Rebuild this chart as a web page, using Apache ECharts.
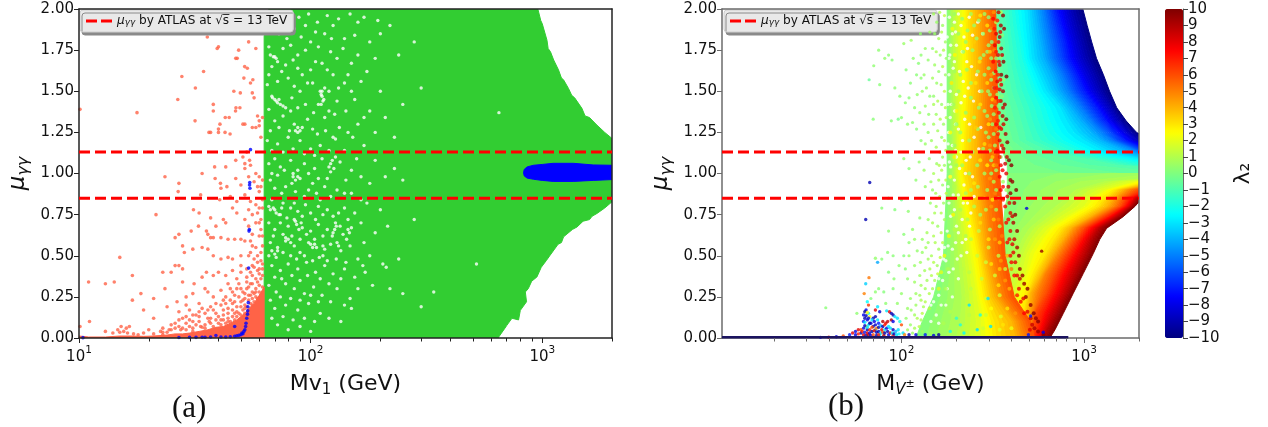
<!DOCTYPE html>
<html><head><meta charset="utf-8">
<style>html,body{margin:0;padding:0;background:#fff}#c{width:1268px;height:427px}</style>
<script src="https://cdn.jsdelivr.net/npm/echarts@6/dist/echarts.min.js"></script>
</head><body><div id="c"></div>
<script>
// ---------- data ----------
const muTickStep = 0.25;
const atlasBounds = [0.85, 1.13];
const panelAXRange = [10, 2000];
const panelBXRange = [10.4, 2000];
const majorTicks = [10, 100, 1000];
const minorTicks = [20,30,40,50,60,70,80,90,200,300,400,500,600,700,800,900,2000];
const legendName = '{g|μ}{s|γγ} by ATLAS at √s̅ = 13 TeV';

// panel (a): outline of the dense green region [Mv1, mu]
const greenOutline = [[63,0],[63,1.84],[66,1.86],[66,2],[957,2],[985,1.93],[1000,1.91],[1048,1.81],[1060,1.76],[1085,1.74],[1120,1.69],[1175,1.63],[1210,1.58],[1235,1.57],[1298,1.517],[1340,1.475],[1380,1.46],[1483,1.396],[1530,1.35],[1600,1.34],[1722,1.294],[1860,1.25],[2000,1.213],[2000,0.828],[1860,0.79],[1722,0.757],[1640,0.74],[1600,0.72],[1500,0.71],[1413,0.675],[1350,0.66],[1236,0.615],[1210,0.58],[1170,0.57],[1081,0.503],[1040,0.47],[990,0.43],[948,0.371],[900,0.345],[870,0.3],[845,0.28],[855,0.22],[804,0.168],[790,0.11],[740,0.12],[703,0.077],[690,0.06],[644,0]];
const blueBlob = [[830,1.004],[836,1.025],[860,1.04],[916,1.05],[1000,1.055],[1115,1.062],[1361,1.062],[1660,1.052],[2000,1.05],[2000,0.963],[1660,0.958],[1361,0.952],[1115,0.952],[1000,0.958],[916,0.965],[860,0.972],[836,0.985]];
const salmonOutline = [[10,0],[10,0.012],[11,0.006],[13,0.006],[15,0.012],[17,0.012],[19,0.01],[21,0.012],[24,0.018],[26,0.025],[28,0.025],[30,0.03],[33,0.04],[36,0.05],[39,0.065],[42,0.07],[45,0.09],[48,0.11],[50,0.13],[52,0.15],[55,0.19],[57,0.21],[60,0.26],[63,0.31],[63,0]];
const salmonPoints = [[10.1,1.39],[17.8,1.37],[35.8,1.83],[39.5,1.76],[40,1.77],[48.9,1.75],[48.2,1.70],[47.5,1.7],[54,1.8],[58,1.76],[34.5,1.62],[51.9,1.65],[53.3,1.64],[27.8,1.59],[51.5,1.58],[56.3,1.57],[55,1.55],[31.8,1.52],[46.6,1.50],[49.7,1.49],[56,1.49],[26.7,1.45],[38,1.42],[38,1.38],[47.6,1.40],[49.5,1.40],[47.4,1.38],[57,1.46],[31.7,1.32],[42.8,1.34],[44.5,1.34],[59,1.35],[52,1.3],[40.6,1.30],[51,1.30],[60,1.32],[40,1.27],[36.4,1.25],[37,1.25],[40,1.25],[42.7,1.25],[44.9,1.24],[56,1.28],[58,1.28],[60,1.29],[62,1.34],[61,1.22],[47.5,1.08],[51,1.1],[53,1.13],[52,1.06],[54.5,1.08],[52,1.03],[55,1.05],[54,0.98],[23.5,0.98],[34,1.0],[38.5,1.04],[43,1.04],[38.7,0.97],[40.8,0.94],[41,0.91],[43.5,0.92],[27,0.94],[26.8,0.89],[33.5,0.87],[47.5,0.97],[50,0.93],[57,0.95],[59,0.92],[60,0.89],[62,0.84],[40.5,0.84],[45,0.86],[48,0.83],[52,0.87],[55,0.83],[58,0.81],[21.5,0.75],[31.2,0.78],[33,0.76],[46,0.79],[48,0.76],[52,0.72],[54,0.78],[59,0.76],[61,0.72],[42,0.72],[43,0.7],[37,0.73],[39,0.68],[30.5,0.65],[32.8,0.68],[26,0.61],[27,0.63],[28,0.56],[35.5,0.65],[36,0.63],[37,0.61],[38,0.61],[41,0.61],[44,0.6],[47,0.6],[50,0.6],[52,0.59],[54,0.68],[56,0.63],[58,0.55],[60,0.62],[62,0.56],[28.5,0.52],[31,0.54],[34,0.55],[36,0.54],[38,0.5],[41,0.48],[44,0.49],[46,0.48],[50,0.5],[54,0.5],[55,0.52],[57,0.48],[59,0.46],[61,0.47],[15,0.49],[17,0.38],[13,0.33],[11,0.34],[14.2,0.34],[18.5,0.27],[17,0.23],[21,0.24],[23,0.4],[27,0.44],[28,0.42],[25,0.4],[26,0.44],[23.5,0.3],[28,0.34],[31.4,0.33],[34,0.37],[35.5,0.4],[38,0.38],[40,0.4],[43,0.38],[46,0.41],[50,0.4],[53,0.37],[56,0.38],[60,0.39],[26.5,0.22],[29,0.25],[31,0.27],[33,0.21],[35,0.3],[36,0.28],[38,0.25],[41,0.29],[43,0.25],[45,0.3],[47,0.26],[49,0.33],[51,0.28],[53,0.3],[55,0.33],[57,0.27],[59,0.34],[61,0.36],[19,0.17],[21,0.12],[24,0.19],[27,0.16],[29,0.2],[30,0.17],[32,0.14],[34,0.18],[36,0.12],[37,0.19],[39,0.15],[41,0.2],[42,0.14],[44,0.18],[46,0.21],[48,0.16],[50,0.19],[52,0.2],[54,0.23],[56,0.24],[11.1,0.1],[10.1,0.07],[13,0.04],[15.2,0.07],[16,0.06],[14.7,0.05],[16.5,0.07],[20,0.05],[23,0.06],[25,0.08],[27,0.07],[29,0.09],[31,0.06],[33,0.1],[35,0.08],[37,0.09],[22.5,0.04],[24,0.035],
 [14,0.03],[15,0.035],[15.6,0.04],[16.2,0.03],[17.2,0.025],[18,0.02],[19,0.03],[21,0.025],[23,0.02],[24.5,0.05],[26,0.06],[27.5,0.05],[29,0.05],[30,0.07],[32,0.08],[33.5,0.07],[35,0.06],[36.5,0.1],[38,0.07],[39,0.11],[40,0.09],[41,0.08],[42,0.11],[43,0.09],[44,0.12],[45,0.1],[46,0.13],[47,0.11],[48,0.13],[49,0.15],[50,0.14],[51,0.17],[52,0.15],[53,0.19],[54,0.17],[55,0.21],[56,0.2],[57,0.22],[58,0.25],[59,0.24],[60,0.28],[61,0.26],[62,0.31],[40,0.13],[42,0.17],[44,0.15],[46,0.17],[48,0.19],[50,0.22],[52,0.24],[54,0.26],[56,0.28],[58,0.3],[60,0.32],[62,0.38],[47,0.22],[49,0.25],[51,0.23],[45,0.23],[43,0.21],[38,0.17],[35,0.15],[33,0.13],[30,0.11],[31,0.1],[28,0.12],[26,0.09],[62,0.45],[61,0.52],[59,0.5],[56,0.44],[53,0.42],[50,0.44],[48,0.36],[44,0.33],[62,0.62],[61,0.66],[60,0.7],[62,0.79],[60,0.79],[58,0.7],[56,0.75],[56,0.56],[55,0.59],[61,0.92],[62,0.96],[60,0.98],[58,1.0],
 [52,0.27],[54,0.31],[56,0.33],[58,0.36],[60,0.42],[55,0.4],[57,0.43],[59,0.41],[62,0.42],[50,0.3],[46,0.28],[42,0.23],[39,0.21],[36,0.17],[33,0.16],[31,0.14],[29,0.13],[27,0.11],[25,0.05],[23,0.035],[28,0.06],[31,0.04],[34,0.065],[37,0.12],[41,0.11],[44,0.1],[47,0.15],[52,0.18],[55,0.26],[58,0.28],[53,0.34],[48,0.3]];
const blueDots = [[10.4,0.002],[27,0.003],[30,0.004],[32,0.004],[34,0.005],[35,0.005],[37,0.006],[39,0.015],[41,0.006],[43,0.006],[45,0.008],[47,0.01],[48,0.014],[49,0.016],[50,0.02],[50.5,0.03],[51,0.026],[51.5,0.04],[52,0.05],[47,0.07],[52.4,0.07],[52.6,0.09],[53,0.12],[53.4,0.145],[53.5,0.165],[53.6,0.19],[53.8,0.215],[54,0.425],[54.2,0.65],[54.4,0.66],[54.5,0.93],[54.7,0.91],[54.6,0.945],[55,1.145]];
const gapsA = [[67,1.72],[70,1.71],[72,1.68],[84,1.69],[88,1.72],[66,1.6],[75,1.62],[80,1.58],[92,1.6],[97,1.55],[68,1.47],[71,1.44],[74,1.42],[78,1.4],[83,1.46],[90,1.5],[110,1.5],[112,1.47],[113,1.44],[108,1.42],[115,1.52],[70,1.32],[76,1.35],[85,1.3],[92,1.28],[97,1.33],[102,1.27],[125,1.22],[128,1.21],[140,1.55],[155,1.45],[100,1.8],[115,1.85],[125,1.9],[140,1.82],[160,1.92],[180,1.8],[220,1.9],[95,1.9],[85,1.88],[105,1.68],[118,1.63],[130,1.7],[150,1.67],[175,1.62],[200,1.5],[180,1.38],[210,1.34],[160,1.3],[145,1.25],[120,1.38],[130,1.44],[240,1.72],[280,1.8],[300,1.52],[250,1.42],[65,1.2],[72,1.18],[80,1.22],[90,1.2],[100,1.15],[110,1.17],[140,1.14],[170,1.17],[66,1.06],[70,1.09],[74,1.04],[82,1.08],[88,1.02],[94,1.06],[104,1.03],[112,1.09],[118,0.97],[126,1.03],[134,1.07],[150,1.02],[165,0.98],[190,1.08],[230,1.03],[250,0.96],[67,0.96],[72,0.99],[78,0.92],[83,0.94],[90,0.97],[98,0.9],[106,0.88],[115,0.92],[130,0.9],[140,0.88],[66,0.8],[70,0.78],[76,0.82],[82,0.79],[88,0.77],[95,0.81],[100,0.76],[108,0.8],[118,0.78],[125,0.74],[140,0.79],[155,0.76],[175,0.82],[200,0.78],[66,0.7],[70,0.66],[74,0.7],[80,0.68],[86,0.71],[92,0.67],[100,0.65],[108,0.69],[118,0.66],[128,0.7],[138,0.63],[150,0.67],[165,0.7],[190,0.64],[215,0.68],[280,0.72],[67,0.58],[72,0.55],[78,0.59],[85,0.56],[90,0.52],[98,0.58],[106,0.55],[113,0.5],[122,0.57],[135,0.53],[148,0.56],[160,0.48],[180,0.5],[205,0.45],[212,0.43],[240,0.48],[68,0.44],[74,0.41],[80,0.45],[88,0.42],[96,0.46],[105,0.4],[115,0.44],[125,0.39],[140,0.42],[155,0.37],[172,0.4],[185,0.32],[220,0.3],[250,0.27],[66,0.32],[71,0.28],[78,0.33],[85,0.3],[94,0.27],[103,0.31],[112,0.26],[130,0.3],[148,0.24],[70,0.18],[78,0.2],[88,0.17],[98,0.21],[110,0.15],[135,0.1],[150,0.18],[72,0.08],[90,0.07],[300,0.19],[340,0.28],[520,0.45],[650,1.37],
 [68,1.93],[74,1.96],[81,1.91],[89,1.95],[98,1.97],[107,1.92],[118,1.96],[132,1.94],[148,1.97],[170,1.95],[195,1.93],[73,1.85],[79,1.82],[91,1.83],[105,1.86],[123,1.82],[155,1.84],[200,1.85],[66,1.77],[76,1.76],[82,1.78],[95,1.75],[108,1.77],[122,1.74],[138,1.76],[160,1.72],[190,1.7],[68,1.65],[78,1.66],[88,1.64],[100,1.63],[112,1.67],[125,1.6],[145,1.6],[165,1.56],[65,1.54],[72,1.56],[85,1.53],[102,1.55],[120,1.5],[132,1.52],[150,1.5],[66,1.39],[82,1.38],[88,1.4],[95,1.42],[103,1.37],[115,1.34],[127,1.36],[142,1.38],[170,1.34],[67,1.26],[73,1.28],[81,1.26],[88,1.25],[107,1.24],[116,1.26],[133,1.28],[152,1.22],[190,1.25],[230,1.22],[68,1.14],[76,1.13],[84,1.15],[94,1.12],[104,1.11],[120,1.14],[128,1.1],[158,1.09],[68,1.0],[77,1.02],[84,1.0],[98,1.0],[108,0.97],[122,1.01],[142,0.96],[180,0.94],[210,0.98],[70,0.91],[75,0.88],[86,0.89],[94,0.86],[102,0.94],[110,0.84],[122,0.86],[150,0.88],[165,0.84],[68,0.84],[74,0.75],[79,0.73],[85,0.82],[92,0.74],[105,0.72],[113,0.75],[132,0.76],[145,0.72],[69,0.62],[76,0.63],[83,0.62],[90,0.6],[96,0.63],[104,0.6],[113,0.62],[124,0.62],[143,0.6],[170,0.58],[66,0.5],[71,0.49],[76,0.52],[82,0.5],[87,0.48],[94,0.5],[102,0.47],[109,0.49],[118,0.47],[129,0.48],[142,0.46],[168,0.44],[70,0.37],[75,0.36],[83,0.38],[90,0.35],[97,0.38],[110,0.36],[120,0.33],[135,0.36],[160,0.3],[67,0.23],[74,0.25],[82,0.24],[90,0.23],[100,0.26],[108,0.22],[122,0.22],[140,0.2],[68,0.12],[76,0.13],[84,0.11],[94,0.12],[104,0.1],[120,0.12],[80,0.05],[100,0.04],
 [68.5,1.46],[70,1.45],[72,1.43],[73,1.45],[76,1.41],[69,1.71],[71,1.7],[111,1.48],[112,1.5],[114,1.45],[111,1.42],[67,0.78],[69,0.79],[71,0.76],[73,0.75],[75,0.79],[85,0.72],[87,0.69],[89,0.66],[91,0.7],[100,0.57],[102,0.55],[104,0.57],[113,0.56],[115,0.54],[84,0.98],[86,0.96],[88,0.98],[78,0.61],[80,0.6],[82,0.58],[68,0.53],[70,0.51],[72,0.53],[125,0.64],[127,0.66],[129,0.68],[130,0.58],[132,0.56],[120,1.04],[122,1.06],[124,1.08],[86,1.26],[88,1.28],[90,1.26],[134,0.68],[145,0.66],[147,0.64]];

// panel (b): lambda contours right of the scatter cloud, one row of M per mu
const upperMu = [2.0,1.9,1.8,1.7,1.6,1.5,1.4,1.32,1.25,1.2,1.13,1.09,1.05,1.0];
const upperLevels = [-10,-9,-8,-7,-6,-5,-4,-3,-2,-1,0];
const upperContours = [
 [985,1040,1101,1170,1277,1380,1510,1700,1940,2300,3300,4500,6000,9000],
 [860,910,965,1020,1130,1230,1400,1560,1790,2000,2900,4000,5600,8800],
 [770,810,860,905,1000,1100,1270,1420,1640,1830,2600,3600,5200,8600],
 [700,740,785,815,910,1000,1170,1310,1500,1680,2350,3200,4800,8400],
 [645,675,710,740,825,900,1050,1190,1370,1530,2150,2900,4400,8200],
 [595,615,640,665,745,815,950,1080,1240,1400,2000,2700,4000,8000],
 [540,555,575,597,660,720,840,950,1090,1230,1700,2400,3500,7800],
 [486,495,505,515,565,620,738,800,880,1000,1300,2000,2900,7500],
 [415,425,440,455,485,520,574,600,640,700,950,1450,2300,7000],
 [355,360,365,372,385,400,430,450,470,480,650,1000,1500,6500],
 [300,300,300,300,300,305,310,320,330,340,360,370,380,380]];
const lowerMu = [1.0,0.95,0.9,0.85,0.8,0.737,0.667,0.6,0.515,0.393,0.272,0.15,0.05,0];
const lowerLevels = [0,1,2,3,4,5,6,7,8,9,10];
const lowerContours = [
 [380,380,380,380,370,365,360,350,340,320,300,300,300,300],
 [5000,1300,900,800,700,600,503,460,430,390,350,330,320,320],
 [6000,1900,1300,1080,1000,800,640,570,510,480,430,400,390,385],
 [6500,2300,1500,1300,1200,960,760,690,623,540,490,470,460,450],
 [7000,2700,1650,1450,1350,1090,850,770,680,590,515,500,490,480],
 [7500,3000,1800,1570,1480,1180,920,830,738,623,560,525,515,505],
 [8000,3300,2000,1690,1590,1270,1000,900,800,690,623,540,530,520],
 [8500,3600,2250,1800,1680,1370,1070,970,873,755,680,600,565,545],
 [9000,3900,2500,1890,1760,1450,1150,1040,950,830,745,650,600,580],
 [9500,4200,2700,1980,1830,1540,1222,1120,1035,912,810,708,635,610],
 [10000,4500,2900,2080,1900,1636,1330,1220,1125,991,873,770,693,650]];
const cloudMu = [2.0,1.5,1.0,0.5,0.25,0.1,0];
const cloudLevels = [0,1,2,3,4,5,6];
const cloudContours = [
 [178,178,178,170,150,130,120],
 [192,192,194,205,215,210,200],
 [210,210,205,240,260,275,275],
 [232,235,222,270,290,325,335],
 [262,268,258,290,325,405,425],
 [293,298,288,318,362,450,480],
 [328,335,345,370,415,510,535]];
// individual points [M, mu, lambda2]
const sparsePoints = [[75,1.75,0.3],[85,1.72,0.3],[81,1.7,0.4],[88.8,1.69,0.2],[70.5,1.655,0.3],[106,1.63,0.2],[66.5,1.57,-0.5],[76,1.54,0.2],[92,1.52,0.3],[116,1.7,0.4],[128,1.72,0.3],[124,1.67,0.2],[135,1.76,0.5],[140,1.69,0.4],[103,1.79,0.5],[113,1.81,0.6],[127,1.85,0.4],[143,1.86,0.6],[121,1.6,0.2],[128,1.58,0.3],[133,1.6,0.5],[112,1.55,0.2],[98,1.47,0.3],[105,1.43,0.3],[110,1.46,0.2],[122,1.48,0.4],[130,1.5,0.6],[137,1.52,0.5],[143,1.47,0.3],[118,1.4,0.3],[126,1.37,0.5],[135,1.41,0.6],[141,1.36,0.4],[150,1.42,0.8],[88,1.32,0.2],[96,1.33,-0.2],[100,1.34,0.3],[108,1.3,0.4],[115,1.31,0.3],[121,1.27,0.2],[133,1.3,0.5],[140,1.25,0.4],[150,1.3,0.7],[70,1.33,0.2],[128,1.2,0.3],[135,1.18,0.5],[146,1.2,0.6],[155,1.16,0.8],[103,1.09,0.3],[110,1.03,0.2],[125,1.07,0.4],[133,1.02,0.6],[142,1.09,0.5],[150,1.0,0.8],[161,1.05,1],[120,0.96,0.3],[135,0.92,0.5],[145,0.95,0.6],[154,0.88,0.9],[85,0.85,0.2],[100,0.84,-0.3],[78,0.79,0.2],[92,0.78,0.1],[109,0.77,0.3],[126,0.73,0.4],[140,0.72,0.6],[152,0.76,0.8],[85,0.65,0.3],[103,0.63,0.2],[115,0.66,0.4],[118,0.6,0.5],[130,0.6,0.5],[138,0.64,0.7],[150,0.62,0.9],[110,0.58,0.3],[122,0.53,0.4],[136,0.55,0.7],[146,0.5,0.8],[84,0.52,0.2],[90,0.5,0.2],[103,0.5,0.1],[110,0.5,0.5],[78,0.48,0.2],[118,0.44,0.5],[127,0.46,0.6],[134,0.41,0.7],[143,0.42,0.9],[97,0.44,0.3],[105,0.42,0.2],[85,0.4,0.1],[91,0.36,0.3],[108,0.36,0.4],[118,0.34,0.6],[128,0.32,0.7],[138,0.35,0.7],[90,0.3,0.2],[100,0.27,0.4],[112,0.24,0.5],[126,0.26,0.7],[75,0.3,0.2],[68,0.24,0.1],[72,0.28,0.3],[80,0.28,0.1],[82,0.21,0.3],[95,0.21,0.4],[108,0.18,0.5],[120,0.2,0.6],[132,0.19,0.8],[106,0.12,0.4],[118,0.14,0.7],[128,0.11,0.8],[112,0.08,0.5],[57,0.15,0.3],[38.5,0.184,0.2],[145,0.03,0.7],[130,0.04,0.6],
 [150,1.97,0.7],[156,1.92,0.5],[162,1.98,1],[168,1.9,0.6],[172,1.96,1.2],[152,1.85,0.5],[160,1.82,0.8],[166,1.86,1],[174,1.8,0.6],[148,1.76,0.4],[155,1.74,0.8],[163,1.72,0.5],[170,1.75,1],[176,1.7,0.5],[152,1.66,0.6],[160,1.62,0.4],[168,1.65,1.1],[174,1.6,0.6],[148,1.58,0.7],[156,1.55,0.5],[165,1.54,0.8],[172,1.5,1.2],[150,1.47,0.4],[158,1.44,0.9],[166,1.42,0.5],[174,1.4,1.1],[155,1.36,0.6],[163,1.33,1],[170,1.3,0.6],[176,1.34,1],[158,1.26,0.7],[166,1.22,0.5],[172,1.2,1.1],[162,1.13,0.8],[168,1.1,0.6],[175,1.14,1],[156,1.06,0.6],[166,1.02,1],[172,1.05,0.6],[160,0.96,0.8],[168,0.93,0.5],[175,0.96,1.1],[148,0.9,0.5],[162,0.86,0.9],[170,0.82,0.6],[176,0.88,1.2],[144,0.82,0.5],[155,0.8,0.7],[165,0.76,1],[172,0.72,0.7],[148,0.7,0.8],[158,0.68,0.6],[165,0.64,1.1],[153,0.58,0.9],[160,0.54,0.7],[168,0.58,1.2],[140,0.58,0.6],[150,0.46,1],[157,0.44,0.7],[163,0.49,1.3],[130,0.52,0.5],[140,0.48,0.7],[146,0.38,1],[152,0.35,0.8],[158,0.39,1.4],[126,0.38,0.6],[135,0.3,0.7],[142,0.27,1],[148,0.3,0.8],[120,0.27,0.6],[128,0.23,0.9],[135,0.22,1],[142,0.18,1.2],[113,0.17,0.6],[122,0.12,0.9],[130,0.15,1.1],[118,0.06,0.8],[108,0.05,0.7],[125,0.07,1.1],[115,0.03,0.6]];
const scatterColored = [[66.4,0.367,5.2],[74,0.46,-4.2],[72,0.485,0.4],[63.7,0.33,-3.4],[62.5,0.27,5],[67,0.945,-9],[63.7,0.72,-9],[65,0.22,-2.5],[66,0.2,6.5],[64,0.17,-8],[63,0.16,-9.5],[62,0.14,-8],[66,0.15,-3],[67,0.13,2.5],[63,0.12,-9],[65,0.11,-8],[62,0.1,-7],[68,0.09,-8],[70,0.12,-9],[72,0.17,8],[74,0.19,-3],[76,0.16,-8.5],[83,0.165,-3],[86,0.16,8],[88,0.15,-9],[90,0.14,-9],[88,0.11,9],[90,0.1,-8],[79,0.1,9],[82,0.09,8],[84,0.1,8.5],[75,0.09,-7],[72,0.08,-8.5],[70,0.07,-9],[66,0.08,-3],[64,0.07,3],[62,0.06,-8],[60,0.05,6],[58,0.05,8],[56,0.04,-8],[54,0.03,8],[52,0.02,-7],[65,0.05,-9],[67,0.05,7],[69,0.04,-9.5],[72,0.05,-4],[75,0.04,-9],[78,0.05,8],[81,0.05,-3],[84,0.04,-9],[87,0.06,-3],[90,0.05,-9],[93,0.04,-4],[96,0.05,-3],[98,0.1,-2],[95,0.12,-3],[92,0.13,-3],[100,0.08,6],[102,0.03,-3],[104,0.02,5],[110,0.02,-9],[120,0.02,-8],[135,0.02,-7],[150,0.015,-8],[160,0.02,-9],[62,0.02,8],[64,0.015,-9],[66,0.02,9],[68,0.015,-8],[70,0.02,6],[73,0.015,-9],[76,0.02,-3],[80,0.015,9],[85,0.02,-8],[90,0.015,7],[48,0.012,6],[44,0.008,-8],[40,0.005,8],[36,0.004,-8],[485,0.788,-8],[586,0.528,9.5],[510,0.134,-7],[598,0.035,-8],[496,0.02,-7],[298,0.24,-3],[308,0.07,-3],[210,0.08,-2],[235,0.2,-3],[260,0.05,-3],[220,0.03,-2.5],[185,0.04,-2],
 [63,0.075,-8.5],[65,0.065,-3],[67,0.09,-9],[69,0.11,-3],[71,0.1,-8],[73,0.06,5],[75,0.065,-9],[77,0.03,-3],[79,0.035,6],[81,0.03,-9],[83,0.06,-8],[85,0.07,-3],[87,0.03,8],[89,0.03,-3],[91,0.025,-9],[94,0.02,-3],[97,0.025,-2.5],[60,0.03,-9],[58,0.025,7],[56,0.02,-8],[61,0.04,7],[63,0.035,-7],[65,0.03,8],[67,0.03,-8],[69,0.065,6],[71,0.045,8],[73,0.035,-9],[75,0.02,7],[77,0.075,-4],[79,0.07,-9],[81,0.08,7],[64,0.135,-9],[65,0.155,2.5],[63,0.095,-3],[66,0.12,-8.5],[72,0.13,-9],[74,0.11,-3],[200,0.12,-1.5],[270,0.14,-2]];
const redSpecks = [[340,1.98,8.5],[360,1.96,9.5],[350,1.9,9],[365,1.88,9.5],[330,1.85,8],[345,1.83,9],[318,1.94,7.5],[325,1.78,8],[352,1.76,9],[338,1.72,8],[318,1.68,7.5],[362,1.68,9.5],[345,1.66,8.5],[328,1.62,7.5],[352,1.6,9.5],[376,1.59,10],[335,1.56,8],[322,1.52,7.5],[345,1.51,8],[360,1.5,9],[330,1.46,7.5],[350,1.44,8.5],[368,1.42,9],[325,1.4,7],[342,1.37,7.5],[358,1.35,9],[375,1.33,9.5],[330,1.3,7.5],[352,1.27,8],[372,1.24,9],[380,1.19,9.5],[345,1.2,8],[362,1.15,8.5],[335,1.14,7.5],[388,1.08,9.8],[400,1.05,9.8],[370,1.06,8.5],[350,1.05,7.5],[345,0.98,7.5],[375,1.0,8],[395,0.96,9.5],[405,0.95,9.5],[425,0.9,9.8],[395,0.88,9.5],[380,0.86,8],[350,0.9,7.5],[415,0.82,9],[420,0.75,9.5],[370,0.8,7.5],[395,0.76,8],[410,0.7,9],[375,0.7,7.5],[430,0.65,9.5],[395,0.65,8],[415,0.6,8.5],[380,0.58,7.5],[430,0.55,9],[440,0.5,9.5],[410,0.52,8],[400,0.46,7.5],[445,0.42,9.5],[430,0.38,8],[460,0.38,9.5],[470,0.33,9.5],[440,0.3,7.8],[490,0.3,9.8],[480,0.25,9.5],[450,0.22,7.5],[510,0.2,9.5],[530,0.15,9.8],[490,0.16,8],[545,0.12,9.5],[560,0.1,9.8],[520,0.08,8.5],[560,0.04,9.5],[600,0.02,9.8],
 [335,1.93,7],[348,1.86,8],[322,1.88,7],[340,1.8,7.5],[330,1.74,7],[356,1.72,8.5],[342,1.68,7.5],[338,1.6,7],[348,1.57,7.5],[332,1.52,7],[352,1.54,8],[340,1.44,7],[360,1.4,8.5],[338,1.32,7],[362,1.3,8.5],[345,1.28,7.5],[338,1.24,7],[355,1.17,7.5],[345,1.1,7],[378,1.1,8.5],[358,1.02,7.5],[360,0.92,7.5],[385,0.92,8.5],[360,0.84,7],[390,0.82,8],[385,0.72,7.5],[405,0.74,8.5],[390,0.6,7.5],[405,0.57,8],[395,0.5,7.5],[420,0.46,8],[415,0.38,7.5],[445,0.36,8.5],[430,0.26,7],[465,0.24,8],[470,0.15,7.5],[510,0.12,8.5],[505,0.05,8],[535,0.06,9]];
const cloudFlecks = [[300,1.95,0.3],[330,1.92,1],[305,1.87,0.5],[350,1.98,1],[312,1.8,0.2],[340,1.78,0.5],[355,1.84,0.3],[295,1.74,0.5],[330,1.7,0.4],[350,1.71,0.5],[300,1.64,0.6],[340,1.63,0.3],[310,1.57,0.5],[362,1.57,0.3],[345,1.55,0.5],[298,1.5,0.4],[335,1.48,0.6],[355,1.47,0.2],[312,1.41,0.5],[340,1.41,0.4],[295,1.35,0.5],[350,1.33,0.4],[315,1.3,0.5],[365,1.3,0.2],[340,1.25,0.5],[300,1.22,0.5],[360,1.2,0.3],[325,1.17,0.6],[350,1.1,0.5],[310,1.08,0.6],[375,1.12,0.3],[330,1.02,0.7],[360,0.95,0.6],[320,0.95,1],[340,0.85,0.8],[375,0.9,0.6],[250,1.9,0.5],[270,1.7,0.4],[240,1.55,0.6],[265,1.4,0.5],[235,1.2,0.7],[260,1.05,0.6],[240,0.9,1],[270,0.75,0.8],[240,0.6,1.2],[300,0.55,1.5],[225,1.8,0.5],[210,1.6,0.5],[200,1.3,0.4],[215,1.05,0.7],[230,0.72,1],[215,0.42,1.2],[240,0.3,1.3],
 [195,1.97,0.6],[215,1.94,0.5],[240,1.97,0.7],[265,1.93,0.5],[285,1.97,0.6],[205,1.85,0.6],[230,1.87,0.4],[258,1.82,0.6],[280,1.85,0.5],[300,1.78,0.6],[218,1.74,0.5],[245,1.75,0.7],[282,1.72,0.6],[310,1.7,0.5],[195,1.62,0.7],[228,1.63,0.5],[262,1.62,0.6],[285,1.6,0.5],[320,1.61,0.4],[205,1.5,0.6],[240,1.46,0.5],[275,1.5,0.6],[305,1.48,0.5],[320,1.52,0.4],[192,1.42,0.7],[225,1.37,0.5],[250,1.34,0.7],[285,1.38,0.6],[320,1.36,0.5],[210,1.25,0.6],[262,1.27,0.5],[290,1.25,0.7],[320,1.24,0.5],[195,1.17,0.6],[245,1.13,0.5],[280,1.15,0.7],[305,1.14,0.5],[200,1.05,0.7],[235,1.0,0.6],[285,1.0,0.7],[310,1.0,0.5],[195,0.92,1],[225,0.88,0.8],[262,0.92,0.9],[295,0.9,0.8],[330,0.9,0.7],[210,0.78,1],[250,0.8,0.9],[290,0.78,1],[330,0.78,0.8],[195,0.66,1.1],[225,0.62,1],[265,0.65,1.2],[305,0.66,1],[345,0.68,0.9],[215,0.52,1.2],[260,0.5,1.4],[290,0.46,1.5],[340,0.5,1.3],[180,0.42,0.9],[235,0.4,1.2],[275,0.36,1.4],[325,0.38,1.6],[370,0.42,1.4],[175,0.3,0.9],[225,0.26,1.3],[290,0.24,1.6],[345,0.26,1.8],[185,0.16,1],[235,0.14,1.2],[290,0.14,1.5],[350,0.13,2],[170,0.09,0.9],[220,0.06,1.3],[280,0.06,1.5],[345,0.05,2],[400,0.06,2.2],[225,1.93,2.8],[190,1.88,2.4],[196,1.72,2.6],[188,1.55,2.8],[200,1.38,2.6],[185,1.25,2.5],[195,1.1,2.7],[185,0.98,2.5],[192,0.75,2.6],[182,0.62,2.4],[172,0.5,2.2],[165,0.4,2],[160,0.3,1.8],
 [270,1.96,3],[295,1.9,3],[250,1.8,3.5],[305,1.74,3.5],[268,1.68,3],[295,1.55,3.2],[255,1.55,3],[315,1.45,3.5],[270,1.42,3],[300,1.3,3],[255,1.28,3.5],[285,1.18,3.2],[315,1.1,3.5],[270,1.08,3],[295,1.05,2.8],[320,1.05,3.5],[250,0.94,3],[285,0.85,3.2],[315,0.84,3],[270,0.7,3.2],[320,0.72,3.5],[300,0.6,3],[345,0.58,3.5],[310,0.45,3],[345,0.42,3.5],[380,0.5,4],[340,0.32,3],[390,0.3,4],[310,0.18,2.5],[380,0.18,3],[420,0.15,4.5],[360,0.08,3],[320,1.98,4.5],[312,1.88,5],[322,1.75,4.8],[310,1.6,4.5],[325,1.44,5],[305,1.33,4.5],[330,1.27,5],[305,1.17,4.5],[320,1.12,5],[330,1.05,5],[305,0.97,4.5],[325,0.88,5],[310,0.8,4.5],[340,0.72,5],[325,0.6,4.5],[355,0.62,5],[350,0.47,4.5],[370,0.35,4.5],[400,0.42,5]];
const gapsB = [[183,1.95],[178,1.83],[182,1.7],[182,1.6],[185,1.5],[180,1.42],[185,1.34],[181,1.25],[180,1.18],[183,1.07],[185,0.98],[180,0.92],[182,0.82],[178,0.65],[172,0.55],[175,0.47],[158,0.42],[168,0.35],[150,0.3],[160,0.26],[145,0.2],[155,0.14],[195,1.92],[205,1.97],[212,1.9],[200,1.78],[215,1.74],[195,1.68],[208,1.62],[218,1.56],[200,1.48],[212,1.43],[196,1.38],[222,1.33],[205,1.27],[216,1.2],[198,1.14],[226,1.08],[208,1.03],[195,0.96],[220,0.93],[205,0.87],[230,0.82],[195,0.78],[215,0.72],[205,0.64],[225,0.6],[190,0.54],[212,0.5],[192,0.42],[205,0.36],[175,0.2],[190,0.25],[235,1.95],[245,1.84],[230,1.76],[242,1.65],[232,1.52],[248,1.44],[236,1.3],[250,1.22],[238,1.1],[245,0.98],[250,0.86],[240,0.76],[228,0.52],[262,1.92],[258,1.6],[268,1.5],[265,1.15],[278,1.85],[272,1.28],[184,1.72],
 [190,1.85],[198,1.86],[186,1.78],[192,1.64],[188,1.42],[198,1.3],[190,1.17],[186,1.04],[200,1.1],[192,0.87],[186,0.74],[200,0.68],[180,0.56],[198,0.58],[170,0.48],[182,0.4],[160,0.36],[178,0.3],[220,1.83],[228,1.68],[222,1.47],[212,1.13],[224,1.0],[218,0.82],[236,0.68],[215,0.58],[202,0.48],[150,0.22],[165,0.2],[160,0.09],[145,0.1]];
const zeroLineEnds = [10.4, 820];
const colorbarRange = [-10,10];

// ---------- helpers ----------
const jetStops = ['#00007f','#0000ff','#007fff','#00ffff','#7fff7f','#ffff00','#ff7f00','#ff0000','#7f0000'];
function hex(s){return [1,3,5].map(i=>parseInt(s.substr(i,2),16));}
function jet(v){
  const t=Math.max(0,Math.min(1,(v+10)/20))*8, i=Math.min(7,Math.floor(t)), f=t-i;
  const a=hex(jetStops[i]), b=hex(jetStops[i+1]);
  return 'rgb('+a.map((c,k)=>Math.round(c+(b[k]-c)*f)).join(',')+')';
}
function polySeries(name,outline,color,xi,yi,z){
  return {type:'custom',name:name,xAxisIndex:xi,yAxisIndex:yi,clip:true,z:z,silent:true,
    coordinateSystem:'cartesian2d',data:[0],encode:{x:[],y:[]},
    renderItem:function(p,api){
      return {type:'polygon',shape:{points:outline.map(q=>api.coord(q))},style:{fill:color,stroke:color,lineWidth:1}};
    }};
}
function bandSeries(name,rows,levels,table,xi,yi,z){
  const SUB=4, items=[];
  for(let b=0;b<levels.length-1;b++)for(let s=0;s<SUB;s++)items.push([b,s]);
  return {type:'custom',name:name,xAxisIndex:xi,yAxisIndex:yi,clip:true,z:z,silent:true,
    coordinateSystem:'cartesian2d',data:items,encode:{x:[],y:[]},
    renderItem:function(p,api){
      const b=api.value(0),s=api.value(1),t0=s/SUB,t1=(s+1)/SUB;
      const at=(r,t)=>Math.pow(10,Math.log10(table[b][r])*(1-t)+Math.log10(table[b+1][r])*t);
      const pts=[];
      rows.forEach((mu,r)=>pts.push(api.coord([at(r,t0),mu])));
      for(let r=rows.length-1;r>=0;r--)pts.push(api.coord([at(r,t1),rows[r]]));
      const col=jet(levels[b]+(levels[b+1]-levels[b])*(t0+t1)/2);
      return {type:'polygon',shape:{points:pts},style:{fill:col,stroke:col,lineWidth:1}};
    }};
}
function minorTickSeries(values,col,xi,yi){
  return {type:'custom',name:'minor ticks',xAxisIndex:xi,yAxisIndex:yi,clip:false,z:9,silent:true,
    coordinateSystem:'cartesian2d',data:values.map(v=>[v,0]),encode:{x:0,y:1},
    renderItem:function(p,api){
      const q=api.coord([api.value(0),0]);
      const x=Math.round(q[0])+0.5, y=Math.round(q[1]);
      return {type:'line',shape:{x1:x,y1:y,x2:x,y2:y+3.5},style:{stroke:col,lineWidth:1}};
    }};
}
function dots(name,data,color,size,xi,yi,z){
  const o={type:'scatter',name:name,data:data,symbolSize:size,xAxisIndex:xi,yAxisIndex:yi,z:z,silent:true,clip:true,animation:false};
  if(color)o.itemStyle={color:color};
  return o;
}
function refLine(v,xr,xi,yi){
  return {type:'line',name:legendName,data:[[xr[0],v],[xr[1],v]],xAxisIndex:xi,yAxisIndex:yi,showSymbol:false,symbol:'none',z:8,silent:true,
    lineStyle:{color:'#ff0000',width:3,type:[11,5]},itemStyle:{color:'#ff0000'}};
}
const LABEL='DejaVu Sans';
const richLabel={fontFamily:LABEL,color:'#111',fontSize:15,
  rich:{b:{fontFamily:LABEL,fontSize:15,color:'#111',lineHeight:20,verticalAlign:'bottom'},
        u:{fontFamily:LABEL,fontSize:10.5,color:'#111',lineHeight:20,verticalAlign:'top'}}};
function xAxes(range,gridIndex,col,nameStr){
  return [
   {type:'log',logBase:10,gridIndex:gridIndex,min:range[0],max:range[1],position:'bottom',z:6,
    name:nameStr,nameLocation:'middle',nameGap:32,
    nameTextStyle:{fontFamily:LABEL,fontSize:22,color:'#111',
      rich:{m:{fontFamily:LABEL,fontSize:22,color:'#111',lineHeight:28,verticalAlign:'middle'},
            d:{fontFamily:LABEL,fontSize:15,color:'#111',lineHeight:28,verticalAlign:'bottom'},
            v:{fontFamily:LABEL,fontSize:15,fontStyle:'italic',color:'#111',lineHeight:28,verticalAlign:'bottom'},
            e:{fontFamily:LABEL,fontSize:11,color:'#111',lineHeight:28,verticalAlign:'middle'}}},
    axisLine:{show:true,onZero:false,lineStyle:{color:col,width:1.5}},
    axisTick:{show:true,length:5,lineStyle:{color:col,width:1},customValues:majorTicks},
    axisLabel:{show:true,margin:7,customValues:majorTicks,formatter:v=>'{b|10}{u|'+Math.round(Math.log10(v))+'}',...richLabel},
    splitLine:{show:false},minorTick:{show:false},minorSplitLine:{show:false}},
   {type:'log',logBase:10,gridIndex:gridIndex,min:range[0],max:range[1],position:'top',z:6,
    axisLine:{show:true,onZero:false,lineStyle:{color:col,width:1.5}},axisTick:{show:false},axisLabel:{show:false},splitLine:{show:false}}
  ];
}
function yAxes(gridIndex,col){
  return [
   {type:'value',gridIndex:gridIndex,min:0,max:2,interval:muTickStep,position:'left',z:6,
    name:'{m|μ}{g|γγ}',nameLocation:'middle',nameGap:47,nameRotate:90,
    nameTextStyle:{rich:{m:{fontFamily:LABEL,fontSize:23,fontStyle:'italic',color:'#111',lineHeight:28,verticalAlign:'middle'},
                         g:{fontFamily:LABEL,fontSize:16,fontStyle:'italic',color:'#111',lineHeight:28,verticalAlign:'bottom'}}},
    axisLine:{show:true,onZero:false,lineStyle:{color:col,width:1.5}},axisTick:{show:true,length:5,lineStyle:{color:col,width:1}},
    axisLabel:{fontFamily:LABEL,fontSize:15,color:'#111',margin:5,padding:[5,0,0,0],formatter:v=>v.toFixed(2)},splitLine:{show:false}},
   {type:'value',gridIndex:gridIndex,min:0,max:2,position:'right',z:6,
    axisLine:{show:true,onZero:false,lineStyle:{color:col,width:1.5}},axisTick:{show:false},axisLabel:{show:false},splitLine:{show:false}}
  ];
}
function legendFor(left){
  return {show:true,left:left,top:10,padding:[5,6,5,6],itemWidth:26,itemHeight:3,itemGap:0,selectedMode:false,
    icon:'path://M0 0H11V3H0Z M15 0H26V3H15Z',
    data:[legendName],backgroundColor:'#e9e9e9',borderColor:'#cfcfcf',borderWidth:1,borderRadius:3,
    shadowColor:'#8a8a8a',shadowBlur:0,shadowOffsetX:2,shadowOffsetY:3,
    textStyle:{fontFamily:LABEL,fontSize:12.1,color:'#111',
      rich:{g:{fontFamily:LABEL,fontSize:12.1,fontStyle:'italic',color:'#111',verticalAlign:'middle'},
            s:{fontFamily:LABEL,fontSize:8.8,fontStyle:'italic',color:'#111',verticalAlign:'bottom'}}}};
}

const series=[
  polySeries('green region',greenOutline,'#32cd32',0,0,2),
  polySeries('salmon region',salmonOutline,'#ff6347',0,0,3),
  dots('salmon points',salmonPoints,'#ff6347',3.6,0,0,3),
  dots('green gaps',gapsA,'#ffffff',3.4,0,0,3),
  polySeries('blue region',blueBlob,'#0000ff',0,0,4),
  dots('blue points',blueDots,'#0000ff',3.6,0,0,5),
  refLine(atlasBounds[0],panelAXRange,0,0),
  refLine(atlasBounds[1],panelAXRange,0,0),
  minorTickSeries(minorTicks,'#222',0,0),
  bandSeries('upper lambda',upperMu,upperLevels,upperContours,2,2,2),
  bandSeries('lower lambda',lowerMu,lowerLevels,lowerContours,2,2,2),
  bandSeries('cloud lambda',cloudMu,cloudLevels,cloudContours,2,2,3),
  dots('cloud gaps',gapsB,'#ffffff',3.4,2,2,4),
  dots('cloud flecks',cloudFlecks,null,4,2,2,4),
  dots('sparse',sparsePoints,null,3.2,2,2,5),
  dots('red specks',redSpecks,null,4,2,2,5),
  {type:'line',name:'zero line',data:zeroLineEnds.map(v=>[v,0.004]),xAxisIndex:2,yAxisIndex:2,showSymbol:false,symbol:'none',z:7,silent:true,
    lineStyle:{color:'#1c1460',width:2.5}},
  dots('coloured',scatterColored,null,3.4,2,2,6),
  refLine(atlasBounds[0],panelBXRange,2,2),
  refLine(atlasBounds[1],panelBXRange,2,2),
  minorTickSeries(minorTicks,'#6b6b6b',2,2)
];
const mapped=['cloud flecks','sparse','red specks','coloured'].map(n=>series.findIndex(s=>s.name===n));

const option={
  animation:false,backgroundColor:'#fff',
  grid:[
    {left:79,top:9,width:533,height:329},
    {left:722,top:9,width:417,height:329},
    {left:1165,top:9,width:18,height:329}
  ],
  xAxis:[...xAxes(panelAXRange,0,'#222','{m|Mv}{d|1}{m| (GeV)}'),
         ...xAxes(panelBXRange,1,'#6b6b6b','{m|M}{v|V}{e|±}{m| (GeV)}'),
         {type:'value',gridIndex:2,min:0,max:1,show:false}],
  yAxis:[...yAxes(0,'#222'),...yAxes(1,'#6b6b6b'),
    {type:'value',gridIndex:2,min:colorbarRange[0],max:colorbarRange[1],interval:1,position:'right',z:6,
     name:'λ₂',nameLocation:'middle',nameGap:49,nameRotate:90,nameTextStyle:{fontFamily:LABEL,fontSize:22,color:'#111'},
     axisLine:{show:true,onZero:false,lineStyle:{color:'#6b6b6b',width:1}},
     axisTick:{show:true,length:5,lineStyle:{color:'#444',width:1}},
     axisLabel:{fontFamily:LABEL,fontSize:15,color:'#111',margin:5,padding:[5,0,0,0],formatter:v=>v<0?'−'+(-v):String(v)},splitLine:{show:false}}],
  visualMap:[{type:'continuous',seriesIndex:mapped,dimension:2,min:-10,max:10,left:1165,top:9,itemWidth:18,itemHeight:329,
    padding:0,calculable:false,realtime:false,text:null,showLabel:false,hoverLink:false,inRange:{color:jetStops},outOfRange:{color:jetStops}}],
  legend:[legendFor(80),legendFor(724)],
  title:[
    {text:'(a)',left:172,top:393,padding:0,textStyle:{fontFamily:'Liberation Serif',fontSize:31,fontWeight:'normal',color:'#111'}},
    {text:'(b)',left:828,top:391,padding:0,textStyle:{fontFamily:'Liberation Serif',fontSize:31,fontWeight:'normal',color:'#111'}}
  ],
  tooltip:{show:false},
  series:series
};
const chart=echarts.init(document.getElementById('c'),null,{renderer:'canvas',width:1268,height:427});
chart.setOption(option);
</script></body></html>
